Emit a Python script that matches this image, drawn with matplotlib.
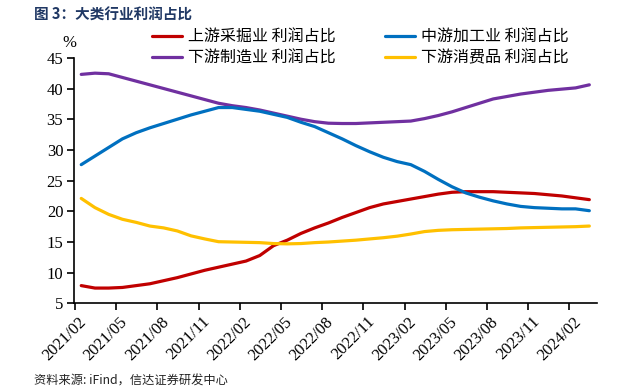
import numpy as np
import matplotlib
matplotlib.use('Agg')
import matplotlib.pyplot as plt
import matplotlib.transforms as mtransforms

# monthly data, 2021/02 .. 2024/03
months = ['2021/02', '2021/03', '2021/04', '2021/05', '2021/06', '2021/07', '2021/08',
          '2021/09', '2021/10', '2021/11', '2021/12', '2022/01', '2022/02', '2022/03',
          '2022/04', '2022/05', '2022/06', '2022/07', '2022/08', '2022/09', '2022/10',
          '2022/11', '2022/12', '2023/01', '2023/02', '2023/03', '2023/04', '2023/05',
          '2023/06', '2023/07', '2023/08', '2023/09', '2023/10', '2023/11', '2023/12',
          '2024/01', '2024/02', '2024/03']

upstream = [7.9, 7.5, 7.5, 7.6, 7.9, 8.2, 8.7, 9.2, 9.8, 10.4, 10.9, 11.4, 11.9, 12.8,
            14.4, 15.3, 16.4, 17.3, 18.1, 19.0, 19.8, 20.6, 21.2, 21.6, 22.0, 22.4,
            22.8, 23.1, 23.2, 23.2, 23.2, 23.1, 23.0, 22.9, 22.7, 22.5, 22.2, 21.9]

midstream = [27.6, 29.0, 30.4, 31.8, 32.8, 33.6, 34.3, 35.0, 35.7, 36.3, 36.9, 36.9,
             36.6, 36.3, 35.8, 35.3, 34.5, 33.8, 32.8, 31.8, 30.7, 29.7, 28.8, 28.1,
             27.6, 26.5, 25.2, 24.0, 23.0, 22.3, 21.7, 21.2, 20.8, 20.6, 20.5, 20.4,
             20.4, 20.1]

manufacturing = [42.3, 42.5, 42.4, 41.8, 41.2, 40.6, 40.0, 39.4, 38.8, 38.2, 37.6, 37.2,
                 36.9, 36.5, 36.0, 35.5, 35.0, 34.6, 34.35, 34.3, 34.3, 34.4, 34.5,
                 34.6, 34.7, 35.1, 35.6, 36.2, 36.9, 37.6, 38.3, 38.7, 39.1, 39.4, 39.7,
                 39.9, 40.1, 40.6]

consumer = [22.1, 20.6, 19.5, 18.7, 18.2, 17.6, 17.3, 16.8, 16.0, 15.5, 15.05, 15.0,
            14.95, 14.9, 14.75, 14.7, 14.75, 14.9, 15.0, 15.15, 15.3, 15.5, 15.7, 15.95,
            16.3, 16.7, 16.9, 17.0, 17.05, 17.1, 17.15, 17.2, 17.3, 17.35, 17.4, 17.45,
            17.5, 17.6]

labels = ['上游采掘业 利润占比', '下游制造业 利润占比', '中游加工业 利润占比', '下游消费品 利润占比']
colors = ['#C00000', '#7030A0', '#0070C0', '#FFC000']

cjk = ['Noto Sans CJK SC', 'DejaVu Sans']
serif = 'Liberation Serif'

fig = plt.figure(figsize=(6.25, 3.88), dpi=100)
ax = fig.add_axes([0.119, 0.218, 0.836, 0.633])

x = np.arange(len(months)) + 0.45
series = [upstream, manufacturing, midstream, consumer]
handles = []
for vals, c in zip(series, colors):
    h, = ax.plot(x, vals, color=c, lw=2.3, solid_joinstyle='round', solid_capstyle='round')
    handles.append(h)

ax.set_xlim(-0.05, 38.0)
ax.set_ylim(5, 45)
ax.set_yticks(np.arange(5, 46, 5))
ax.set_yticklabels([str(v) for v in range(5, 46, 5)], fontfamily=serif, fontsize=12)

# x tick labels drawn by hand so they can sit a bit right of the tick, like Excel
tick_idx = list(range(0, len(months), 3))
ax.set_xticks(tick_idx)
ax.set_xticklabels([])
trans = mtransforms.blended_transform_factory(ax.transData, ax.transAxes) + \
    mtransforms.ScaledTranslation(9 / 100, -16 / 100, fig.dpi_scale_trans)
for i in tick_idx:
    ax.text(i, 0, months[i], transform=trans, fontfamily=serif, fontsize=12,
            rotation=45, ha='right', va='center', rotation_mode='anchor', clip_on=False)

for s in ['top', 'right']:
    ax.spines[s].set_visible(False)
for s in ['left', 'bottom']:
    ax.spines[s].set_linewidth(1.2)
ax.tick_params(axis='both', direction='out', length=5, width=1.2, pad=3)

fig.text(69 / 625, 1 - 43 / 388, '%', fontfamily=serif, fontsize=12, ha='center', va='center')

leg = fig.legend(handles, labels, ncol=2, loc='upper left',
                 bbox_to_anchor=(152 / 625, 1 - 29 / 388), frameon=False,
                 prop={'family': cjk, 'size': 11.5}, handlelength=1.9,
                 handletextpad=0.35, columnspacing=3.1, labelspacing=0.22,
                 borderpad=0, borderaxespad=0)
for line in leg.get_lines():
    line.set_linewidth(2.3)

fig.text(34 / 625, 1 - 15 / 388, '图 3：大类行业利润占比', fontfamily=cjk, fontsize=10.5,
         fontweight='bold', color='#203864', ha='left', va='center')
fig.text(34 / 625, 1 - 381 / 388, '资料来源: iFind，信达证券研发中心', fontfamily=cjk,
         fontsize=8.8, style='italic', color='#222222', ha='left', va='center')

fig.savefig('out.png', dpi=100)
